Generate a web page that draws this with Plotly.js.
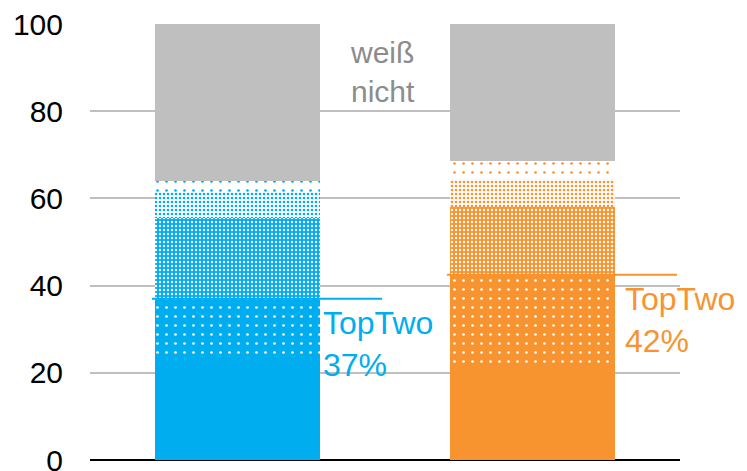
<!DOCTYPE html>
<html>
<head>
<meta charset="utf-8">
<script src="https://cdn.plot.ly/plotly-3.0.1.min.js"></script>
<style>html,body{margin:0;padding:0;background:#fff;}#chart{width:747px;height:471px;}</style>
</head>
<body>
<div id="chart"></div>
<script>
// ---- data ----
const categories = ['Gruppe 1', 'Gruppe 2'];
const voll       = [23, 22];     // solid segment
const eher       = [14, 20.5];   // dotted strong segment (TopTwo part 2)
const mittel     = [18.5, 15.5];
const eherNicht  = [6, 6.5];
const garNicht   = [2.5, 4];
const weissNicht = [36, 31.5];
const topTwo     = [37, 42];
const topTwoLabels = ['TopTwo<br>37%', 'TopTwo<br>42%'];
const dkLabel = 'weiß<br>nicht';

// ---- styles ----
const BLUE = '#00aeef', ORANGE = '#f7942f', GRAY = '#bfbfbf', WHITE = '#ffffff';
const mainColors = [BLUE, ORANGE];
const font = 'Liberation Sans, Arial, sans-serif';

const segments = [
  {name: 'voll', values: voll, style: c => ({color: c})},
  {name: 'eher', values: eher, style: c => ({color: c, pattern: {shape: '.', fillmode: 'replace', bgcolor: c, fgcolor: WHITE, fgopacity: 1, size: 9, solidity: 0.07}})},
  {name: 'mittel', values: mittel, style: c => ({color: c, pattern: {shape: '.', fillmode: 'replace', bgcolor: c, fgcolor: WHITE, fgopacity: 1, size: 4, solidity: 0.28}})},
  {name: 'eher nicht', values: eherNicht, style: c => ({color: c, pattern: {shape: '.', fillmode: 'replace', bgcolor: WHITE, fgcolor: c, fgopacity: 1, size: 4, solidity: 0.35}})},
  {name: 'gar nicht', values: garNicht, style: c => ({color: c, pattern: {shape: '.', fillmode: 'replace', bgcolor: WHITE, fgcolor: c, fgopacity: 1, size: 9, solidity: 0.07}})},
  {name: 'weiß nicht', values: weissNicht, style: c => ({color: GRAY})}
];

const traces = [];
categories.forEach((cat, i) => {
  segments.forEach(s => {
    const m = s.style(mainColors[i]);
    m.line = {width: 0};
    traces.push({type: 'bar', name: s.name, x: [cat], y: [s.values[i]], hoverinfo: 'skip', marker: m});
  });
});

const lineLevels = voll.map((v, i) => v + eher[i]);
const shapes = categories.map((c, i) => ({
  type: 'line', xref: 'x', yref: 'y', x0: i - 0.29, x1: i + 0.49,
  y0: lineLevels[i], y1: lineLevels[i], line: {color: mainColors[i], width: 2}, layer: 'above'
}));
const labelShift = [1, 8];
const annotations = categories.map((c, i) => ({
  xref: 'x', yref: 'y', x: i + 0.28, y: lineLevels[i], xanchor: 'left', yanchor: 'top',
  xshift: labelShift[i], yshift: -4, align: 'left', showarrow: false,
  text: topTwoLabels[i], font: {family: font, size: 32, color: mainColors[i]}
}));
annotations.push({xref: 'x', yref: 'y', x: 0.49, y: 89, showarrow: false, align: 'center',
  text: dkLabel, font: {family: font, size: 30, color: '#8c8c8c'}});

const layout = {
  width: 747, height: 471,
  margin: {l: 90, r: 67, t: 24, b: 11, pad: 0},
  barmode: 'stack', bargap: 0.44, showlegend: false,
  paper_bgcolor: '#fff', plot_bgcolor: '#fff',
  font: {family: font, color: '#000'},
  xaxis: {range: [-0.5, 1.5], showticklabels: false, showgrid: false, zeroline: false, showline: false, ticks: ''},
  yaxis: {range: [0, 100], tickvals: [0, 20, 40, 60, 80, 100], showgrid: true, gridcolor: GRAY, gridwidth: 2,
    zeroline: true, zerolinecolor: '#000', zerolinewidth: 2, showline: false, ticks: '',
    ticklabeloverflow: 'allow', ticklabelstandoff: 26, tickfont: {family: font, size: 30, color: '#000'}},
  shapes: shapes, annotations: annotations
};

Plotly.newPlot('chart', traces, layout, {staticPlot: true, displayModeBar: false});
</script>
</body>
</html>
